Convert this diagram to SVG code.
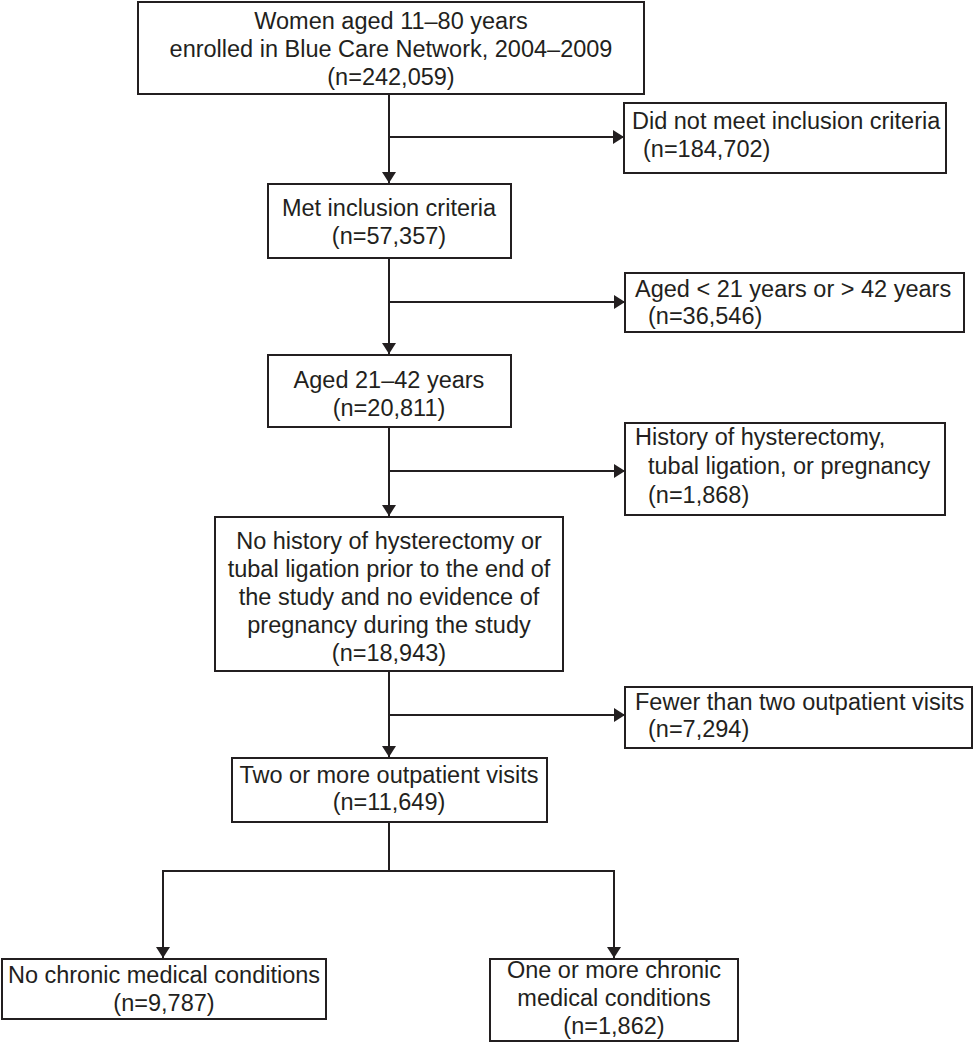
<svg xmlns="http://www.w3.org/2000/svg" width="975" height="1050" viewBox="0 0 975 1050">
<style>
.box{fill:#fff;stroke:#231f20;stroke-width:2}
.ln{fill:none;stroke:#231f20;stroke-width:2}
text{font-family:"Liberation Sans",Arial,sans-serif;font-size:23.5px;fill:#231f20}
.c{text-anchor:middle}
</style>
<defs>
<marker id="ah" markerUnits="userSpaceOnUse" markerWidth="12" markerHeight="16" refX="11" refY="7" orient="auto">
<path d="M0,0 L11,7 L0,14 Z" fill="#231f20"/>
</marker>
</defs>
<rect width="975" height="1050" fill="#fff"/>
<g id="connectors">
<line class="ln" x1="389" y1="94" x2="389" y2="183" marker-end="url(#ah)"/>
<line class="ln" x1="389" y1="137" x2="624" y2="137" marker-end="url(#ah)"/>
<line class="ln" x1="389" y1="258" x2="389" y2="354" marker-end="url(#ah)"/>
<line class="ln" x1="389" y1="302" x2="625" y2="302" marker-end="url(#ah)"/>
<line class="ln" x1="389" y1="427" x2="389" y2="516" marker-end="url(#ah)"/>
<line class="ln" x1="389" y1="471" x2="625" y2="471" marker-end="url(#ah)"/>
<line class="ln" x1="389" y1="671" x2="389" y2="757" marker-end="url(#ah)"/>
<line class="ln" x1="389" y1="715" x2="625" y2="715" marker-end="url(#ah)"/>
<polyline class="ln" points="389,822 389,871 163,871"/>
<line class="ln" x1="163" y1="870" x2="163" y2="958" marker-end="url(#ah)"/>
<line class="ln" x1="389" y1="871" x2="614" y2="871"/>
<line class="ln" x1="614" y1="870" x2="614" y2="958" marker-end="url(#ah)"/>
</g>
<g id="n1">
<rect class="box" x="138" y="2" width="506" height="92"/>
<text class="c" x="391" y="29">Women aged 11–80 years</text>
<text class="c" x="391" y="57">enrolled in Blue Care Network, 2004–2009</text>
<text class="c" x="391" y="85">(n=242,059)</text>
</g>
<g id="n2">
<rect class="box" x="624" y="103" width="322" height="70"/>
<text x="632" y="129">Did not meet inclusion criteria</text>
<text x="643" y="157">(n=184,702)</text>
</g>
<g id="n3">
<rect class="box" x="268" y="184" width="243" height="74"/>
<text class="c" x="389" y="216">Met inclusion criteria</text>
<text class="c" x="389" y="244">(n=57,357)</text>
</g>
<g id="n4">
<rect class="box" x="625" y="273" width="339" height="59"/>
<text x="635" y="297">Aged &lt; 21 years or &gt; 42 years</text>
<text x="648" y="324">(n=36,546)</text>
</g>
<g id="n5">
<rect class="box" x="268" y="355" width="243" height="72"/>
<text class="c" x="389" y="388">Aged 21–42 years</text>
<text class="c" x="389" y="416">(n=20,811)</text>
</g>
<g id="n6">
<rect class="box" x="625" y="423" width="320" height="92"/>
<text x="635" y="445">History of hysterectomy,</text>
<text x="648" y="474">tubal ligation, or pregnancy</text>
<text x="648" y="503">(n=1,868)</text>
</g>
<g id="n7">
<rect class="box" x="215" y="517" width="348" height="154"/>
<text class="c" x="389" y="549">No history of hysterectomy or</text>
<text class="c" x="389" y="577">tubal ligation prior to the end of</text>
<text class="c" x="389" y="605">the study and no evidence of</text>
<text class="c" x="389" y="633">pregnancy during the study</text>
<text class="c" x="389" y="661">(n=18,943)</text>
</g>
<g id="n8">
<rect class="box" x="625" y="687" width="347" height="61"/>
<text x="635" y="710">Fewer than two outpatient visits</text>
<text x="648" y="737">(n=7,294)</text>
</g>
<g id="n9">
<rect class="box" x="232" y="758" width="315" height="64"/>
<text class="c" x="389" y="783">Two or more outpatient visits</text>
<text class="c" x="389" y="810">(n=11,649)</text>
</g>
<g id="n10">
<rect class="box" x="2" y="959" width="324" height="60"/>
<text class="c" x="164" y="983">No chronic medical conditions</text>
<text class="c" x="164" y="1011">(n=9,787)</text>
</g>
<g id="n11">
<rect class="box" x="490" y="959" width="248" height="82"/>
<text class="c" x="614" y="978">One or more chronic</text>
<text class="c" x="614" y="1006">medical conditions</text>
<text class="c" x="614" y="1034">(n=1,862)</text>
</g>
</svg>
